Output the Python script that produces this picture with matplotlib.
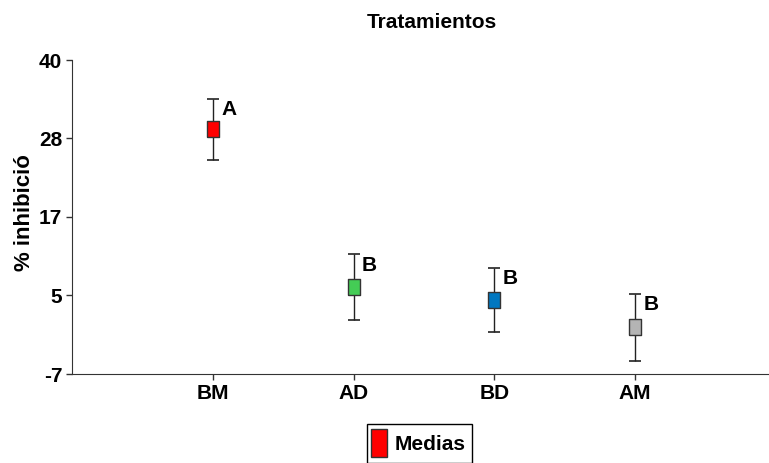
import numpy as np
import matplotlib
matplotlib.use("Agg")
import matplotlib.pyplot as plt
from matplotlib.patches import Rectangle

plt.rcParams['font.family'] = ['Liberation Sans', 'DejaVu Sans']
plt.rcParams['font.weight'] = 'bold'

# data
tratamientos = ["BM", "AD", "BD", "AM"]
medias = [29.6, 6.0, 4.1, 0.0]
errores = [4.6, 4.9, 4.8, 5.0]
letras = ["A", "B", "B", "B"]
colores = ["#ff0000", "#44cc55", "#0077c0", "#b4b4b4"]
y_ticks = [-7, 5, 17, 28, 40]

fig = plt.figure(figsize=(7.69, 4.63), dpi=100)
ax = fig.add_axes([72/769, 1 - 374/463, 1 - 72/769, (374 - 60)/463])

x = np.arange(1, len(tratamientos) + 1)
box = [(-0.78, -1), (0.78, -1), (0.78, 1), (-0.78, 1), (-0.78, -1)]
for xi, m, e, c, l in zip(x, medias, errores, colores, letras):
    ax.errorbar(xi, m, yerr=e, fmt='none', ecolor='#222222', elinewidth=1,
                capsize=4.5, capthick=1.2, zorder=2)
    ax.plot(xi, m, marker=box, markersize=11, markerfacecolor=c,
            markeredgecolor='#333333', markeredgewidth=1, linestyle='none', zorder=3)
    ax.annotate(l, (xi, m + e), xytext=(6, -8), textcoords='offset points',
                fontsize=15, fontweight='bold', ha='left', va='center')

ax.set_xlim(0, 4.95)
ax.set_ylim(-7, 40)
ax.set_xticks(x)
ax.set_xticklabels(tratamientos, fontsize=15, fontweight='bold')
ax.set_yticks(np.linspace(-7, 40, 5))
ax.set_yticklabels([str(t) for t in y_ticks], fontsize=15, fontweight='bold')
ax.tick_params(axis='both', length=4, width=1, color='#333333', pad=3)
ax.spines['top'].set_visible(False)
ax.spines['right'].set_visible(False)
ax.spines['left'].set_color('#333333')
ax.spines['bottom'].set_color('#333333')

fig.text(432/769, 1 - 22/463, "Tratamientos", fontsize=15, fontweight='bold',
         ha='center', va='center')
fig.text(25/769, 1 - 213/463, "% inhibició", fontsize=16, fontweight='bold',
         rotation=90, ha='center', va='center')

# legend box at bottom, cut by the figure edge
fig.patches.append(Rectangle((367/769, 0), 105/769, 39/463, transform=fig.transFigure,
                             facecolor='white', edgecolor='black', linewidth=1))
fig.patches.append(Rectangle((371/769, 6/463), 16/769, 28/463, transform=fig.transFigure,
                             facecolor='#ff0000', edgecolor='#333333', linewidth=1))
fig.text(430/769, 1 - 444/463, "Medias", fontsize=15, fontweight='bold',
         ha='center', va='center')

fig.savefig("out.png", dpi=100)
